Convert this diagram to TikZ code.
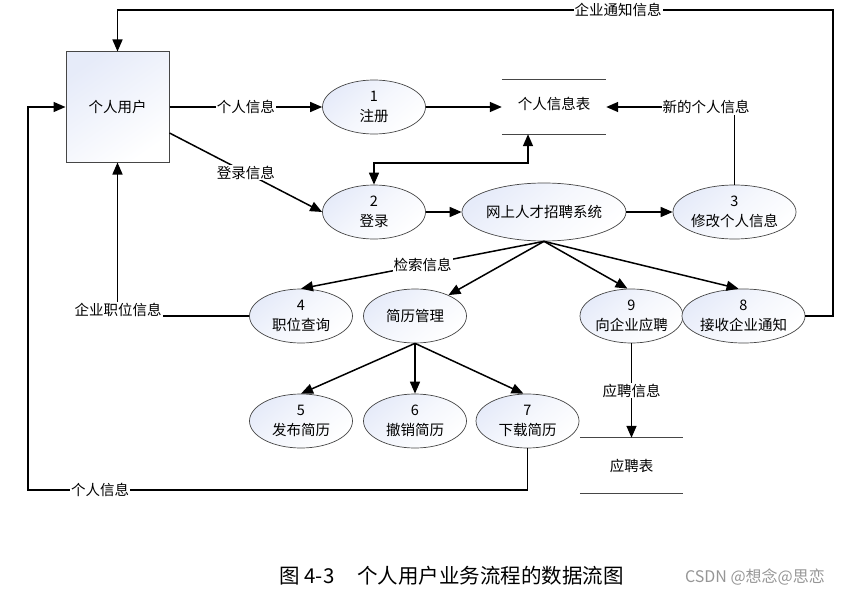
\documentclass[tikz,border=0pt]{standalone}
\usepackage{fontspec}
\newfontfamily\cjk{Noto Sans CJK SC}
\usetikzlibrary{shapes.geometric,arrows.meta,calc}
\definecolor{shadeblue}{RGB}{230,235,249}
\definecolor{edgegray}{RGB}{70,70,70}
\definecolor{wmgray}{RGB}{150,150,150}
\tikzset{
  every node/.style={font=\cjk\fontsize{14.5}{19.5}\selectfont},
  proc/.style={ellipse, draw=edgegray, line width=0.7pt, minimum width=103pt, minimum height=54pt, inner sep=0pt, align=center,
    shading=axis, top color=shadeblue, bottom color=white, middle color=white!60!shadeblue, shading angle=40},
  entity/.style={rectangle, draw=edgegray, line width=1pt, minimum width=103pt, minimum height=110pt, inner sep=0pt,
    shading=axis, top color=shadeblue, bottom color=white, shading angle=35},
  store/.style={rectangle, minimum width=104pt, minimum height=54pt, inner sep=0pt},
  storeline/.style={draw=edgegray, line width=0.8pt},
  flow/.style={line width=1.5pt, -{Triangle[length=12pt,width=10pt]}},
  flowboth/.style={line width=1.5pt, {Triangle[length=12pt,width=10pt]}-{Triangle[length=12pt,width=10pt]}},
  lab/.style={fill=white, inner sep=1pt},
}
\begin{document}
\begin{tikzpicture}[x=1pt,y=-1pt]
\useasboundingbox (0,0) rectangle (851,594);

% entity
\node[entity] (user) at (117.5,107) {个人用户};

% processes
\node[proc] (one)   at (374,107) {1\\注册};
\node[proc] (two)   at (374,212) {2\\登录};
\node[proc, minimum width=122pt, minimum height=58pt] (sys) at (544,212) {网上人才招聘系统};
\node[proc] (three) at (734.5,212) {3\\修改个人信息};
\node[proc] (four)  at (301,316) {4\\职位查询};
\node[proc] (jlgl)  at (415,316) {简历管理};
\node[proc] (nine)  at (631.5,316) {9\\向企业应聘};
\node[proc] (eight) at (743.5,316) {8\\接收企业通知};
\node[proc] (five)  at (301,421) {5\\发布简历};
\node[proc] (six)   at (415,421) {6\\撤销简历};
\node[proc] (seven) at (527.5,421) {7\\下载简历};

% data stores
\node[store] (pis) at (554,107) {\raisebox{7pt}{个人信息表}};
\draw[storeline] (pis.north west) -- (pis.north east);
\draw[storeline] (pis.south west) -- (pis.south east);
\node[store, minimum width=103pt, minimum height=55pt] (yp) at (631.5,465.5) {应聘表};
\draw[storeline] (yp.north west) -- (yp.north east);
\draw[storeline] (yp.south west) -- (yp.south east);

% helper coordinates
\coordinate (c2) at (450,163);
\coordinate (tr) at (833,10);
\coordinate (bl) at (28,490);

% flows
\draw[flow] (user.east |- one.west) -- (one.west) node[lab, midway] {个人信息};
\draw[flow] ([yshift=-26pt]user.east) -- (two.west) node[lab, midway] {登录信息};
\draw[flow] (one.east) -- (pis.west);
\draw[flowboth] (two.north) |- (c2) -| ([xshift=-26pt]pis.south);
\draw[flow] (three.north) |- (pis.east);
\node[lab] at (706,107) {新的个人信息};
\draw[flow] (two.east) -- (sys.west);
\draw[flow] (sys.east) -- (three.west);
\draw[flow] (sys.south) -- (four.north) node[lab, pos=0.5] {检索信息};
\draw[flow] (sys.south) -- (jlgl.32);
\draw[flow] (sys.south) -- ([xshift=-4pt]nine.north);
\draw[flow] (sys.south) -- ([xshift=-5pt]eight.north);
\draw[flow] (jlgl.south) -- (five.north);
\draw[flow] (jlgl.south) -- (six.north);
\draw[flow] (jlgl.south) -- ([xshift=-4pt]seven.north);
\draw[flow] (nine.south) -- (yp.north) node[lab, midway] {应聘信息};
\draw[flow] (eight.east) -| (tr) -| (user.north);
\node[lab] at (618,10) {企业通知信息};
\draw[flow] (four.west) -| (user.south);
\node[lab] at (118,310) {企业职位信息};
\draw[flow] (seven.south) |- (bl) |- (user.west);
\node[lab] at (100,490) {个人信息};

% caption
\node[font=\cjk\fontsize{20.5}{24}\selectfont] (cap) at (451.5,576) {图 4-3\hspace{1.1em}个人用户业务流程的数据流图};
\node[font=\cjk\fontsize{16}{19}\selectfont, text=wmgray] (wm) at (755,577) {CSDN @想念@思恋};
\end{tikzpicture}
\end{document}
